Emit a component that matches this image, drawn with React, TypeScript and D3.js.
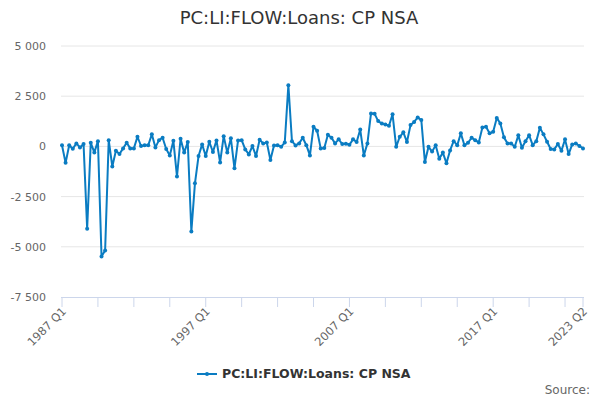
import * as d3 from "d3";

const startYear = 1987;
const values: number[] = [
  60, -820, 60, -120, 150, -50, 120, -4100, 180, -300,
  260, -5480, -5180, 310, -1000, -220, -380, -100, 180, -100,
  -100, 480, 20, 60, 60, 600, -50, 310, 430, -130,
  -450, 280, -1500, 380, -310, 220, -4240, -1840, -480, 100,
  -480, 230, -280, 300, -800, 510, -310, 400, -1090, 300,
  310, -150, -400, 20, -480, 330, 150, 200, -680, 50,
  60, -20, 200, 3050, 260, 50, 150, 430, 60, -450,
  980, 780, -100, -80, 580, 430, 150, 350, 120, 130,
  80, 350, 220, 840, -450, 150, 1640, 1620, 1260, 1140,
  1090, 1030, 1600, -20, 480, 700, 220, 1060, 1220, 1440,
  1310, -780, -20, -260, 60, -610, -310, -840, -200, 260,
  60, 650, 60, 180, 430, 310, 200, 940, 980, 650,
  730, 1420, 1140, 450, 150, 150, -20, 550, -70, 260,
  560, 60, 260, 930, 600, 230, -130, -150, 120, -215,
  350, -380, 100, 150, 20, -100,
];
const quarters = values.map((_, i) => `${startYear + Math.floor(i / 4)} Q${(i % 4) + 1}`);
const yTicks = [5000, 2500, 0, -2500, -5000, -7500];
const labelIdx = [0, 40, 80, 120, values.length - 1];

const seriesName = "PC:LI:FLOW:Loans: CP NSA";
const color = "#0a7cc2";

export default function App() {
  const width = 600;
  const height = 400;
  const left = 61;
  const right = 584;
  const x = d3.scaleLinear().domain([0, values.length - 1]).range([62, 583]);
  const y = d3.scaleLinear().domain([-7500, 5000]).range([297, 46]);
  // highcharts style: space as thousands separator, plain hyphen for minus
  const fmt = (v: number) => d3.format(",")(v).replace(/,/g, " ").replace("\u2212", "-");
  const line = d3
    .line<number>()
    .x((_, i) => x(i))
    .y((d) => y(d));
  const tickIdx = d3.range(0, values.length, 10).concat([values.length - 1]);

  return (
    <svg
      width={width}
      height={height}
      style={{ position: "absolute", left: 0, top: 0, fontFamily: "'DejaVu Sans', Verdana, sans-serif" }}
    >
      <rect width={width} height={height} fill="#fff" />
      <text x={299} y={24} textAnchor="middle" fontSize={18} fill="#333">
        {seriesName}
      </text>
      {yTicks.map((t) => (
        <g key={t}>
          {t !== -7500 && <line x1={left} x2={right} y1={y(t)} y2={y(t)} stroke="#e6e6e6" />}
          <text x={46} y={y(t) + 4} textAnchor="end" fontSize={11} fill="#666">
            {fmt(t)}
          </text>
        </g>
      ))}
      <line x1={left} x2={right} y1={y(-7500) + 0.5} y2={y(-7500) + 0.5} stroke="#ccd6eb" />
      {tickIdx.map((i) => (
        <line key={i} x1={x(i)} x2={x(i)} y1={297} y2={307} stroke="#ccd6eb" />
      ))}
      {labelIdx.map((i) => (
        <text
          key={i}
          transform={`translate(${x(i) + 5},${312}) rotate(-45)`}
          textAnchor="end"
          fontSize={11.5}
          fill="#666"
        >
          {quarters[i]}
        </text>
      ))}
      <path d={line(values) ?? ""} fill="none" stroke={color} strokeWidth={2} strokeLinejoin="round" />
      {values.map((v, i) => (
        <circle key={i} cx={x(i)} cy={y(v)} r={2} fill={color} />
      ))}
      <g>
        <line x1={197} x2={217} y1={374} y2={374} stroke={color} strokeWidth={2} />
        <circle cx={207} cy={374} r={2} fill={color} />
        <text x={222} y={378} fontSize={12.5} fontWeight="bold" fill="#333">
          {seriesName}
        </text>
      </g>
      <text x={590} y={394} textAnchor="end" fontSize={12} fill="#666">
        Source:
      </text>
    </svg>
  );
}
